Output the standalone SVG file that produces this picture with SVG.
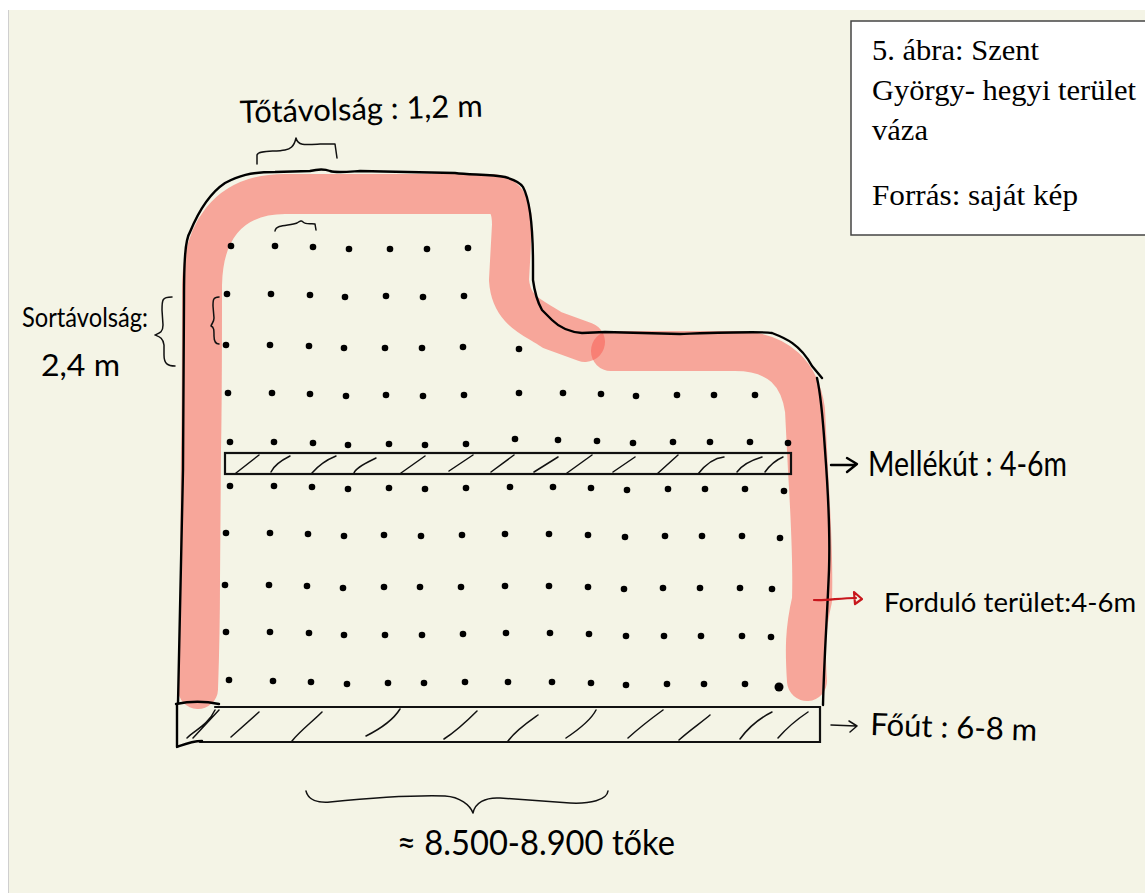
<svg xmlns="http://www.w3.org/2000/svg" width="1145" height="894" viewBox="0 0 1145 894">
<style>
.band{fill:none;stroke:#fa584e;stroke-opacity:.5;stroke-width:40;stroke-linecap:round;stroke-linejoin:round}
.ink{fill:none;stroke:#000;stroke-width:2.400;stroke-linecap:round;stroke-linejoin:round}
.thin{fill:none;stroke:#111;stroke-width:1.500;stroke-linecap:round;stroke-linejoin:round}
.rect{fill:none;stroke:#111;stroke-width:2.200;stroke-linecap:round}
.dots circle{fill:#000;r:3.300px}
.hand{font-family:"Lato","Liberation Sans",sans-serif;font-weight:400;fill:#000}
.cap{font-family:"Liberation Serif",serif;font-size:28.500px;fill:#000}
</style>
<rect width="1145" height="894" fill="#fff"/>
<rect x="8" y="10" width="1137" height="883" fill="#f4f4e6"/>
<path d="M8.500 10V893" stroke="#cfcfcf" fill="none"/>

<g id="turning-area">
<path class="band" d="M198 689C199 660 200 620 200 580L201 450C202 400 202 340 202 285C203 235 225 194 285 194L490 194C505 194 512 205 512 225L509 280C511 312 535 318 552 330L585 342"/>
<path class="band" d="M611 351L735 351C780 351 800 375 805 410L808 470C811 520 813 570 812 600C805 630 805 650 807 681"/>
</g>

<g id="field-outline">
<path class="ink" d="M178 703C179 640 181 560 183 470L184 300C184 262 185 240 190 232C197 215 207 195 225 183C238 176 250 172 275 172L310 171C318 169 325 169 330 171C336 173 345 172 360 171L455 173C470 175 490 174 505 177C512 179 520 182 523 187C530 200 533 225 533 265L533 280C535 295 538 303 542 310L552 320C560 328 570 332 582 333L605 332L680 334C710 333 760 331 772 333C785 338 800 344 812 366L822 378"/>
<path class="ink" d="M817 378C821 395 823 420 825 450C828 490 830 540 829 570C827 620 824 660 823 705"/>
</g>

<g id="main-road">
<path class="rect" d="M215 707H820V742H200"/>
<path class="ink" d="M176 704C190 701 205 701 219 704M177 704L177 747C185 744 192 741 202 741"/>
<path class="thin" d="M187 738C195 730 208 725 215 710M193 738L219 710M231 737L259 712M292 741C300 731 312 722 322 712M366 736C378 730 392 722 400 709M444 739C455 732 468 720 477 711M508 741C516 730 528 722 538 715M566 738C575 732 590 722 596 710M628 738C638 729 652 718 663 710M679 740C690 730 702 722 710 715M740 739C748 728 760 718 772 712M778 738C785 730 796 720 808 712"/>
</g>

<g id="side-road">
<rect class="rect" x="225" y="453" width="566" height="21"/>
<path class="thin" d="M236 473L259 455M271 472C274 465 282 460 290 456M312 473C318 466 326 460 336 456M354 473C356 467 368 462 376 458M401 473L425 456M449 471L473 455M491 472L514 455M534 472L558 457M567 473L592 455M613 472L635 457M657 474L678 455M698 474C705 465 714 458 724 457M737 472C742 465 752 460 762 457M765 472C770 465 776 460 783 457"/>
</g>

<g id="vines" class="dots">
<circle cx="231" cy="246"/><circle cx="275" cy="246"/><circle cx="313" cy="247"/><circle cx="349" cy="249"/><circle cx="390" cy="249"/><circle cx="427" cy="249"/><circle cx="468" cy="248"/>
<circle cx="227" cy="294"/><circle cx="271" cy="294"/><circle cx="310" cy="295"/><circle cx="345" cy="297"/><circle cx="386" cy="296"/><circle cx="423" cy="297"/><circle cx="464" cy="296"/>
<circle cx="226" cy="345"/><circle cx="270" cy="345"/><circle cx="309" cy="346"/><circle cx="344" cy="348"/><circle cx="385" cy="348"/><circle cx="422" cy="348"/><circle cx="463" cy="347"/><circle cx="519" cy="349"/>
<circle cx="228" cy="393"/><circle cx="272" cy="393"/><circle cx="310" cy="394"/><circle cx="346" cy="396"/><circle cx="386" cy="395"/><circle cx="423" cy="396"/><circle cx="464" cy="395"/><circle cx="519" cy="393"/><circle cx="563" cy="393"/><circle cx="601" cy="394"/><circle cx="636" cy="396"/><circle cx="677" cy="395"/><circle cx="714" cy="395"/><circle cx="755" cy="395"/>
<circle cx="230" cy="442"/><circle cx="274" cy="442"/><circle cx="313" cy="443"/><circle cx="348" cy="445"/><circle cx="389" cy="444"/><circle cx="425" cy="445"/><circle cx="466" cy="444"/><circle cx="515" cy="439"/><circle cx="558" cy="440"/><circle cx="597" cy="441"/><circle cx="633" cy="443"/><circle cx="673" cy="442"/><circle cx="710" cy="442"/><circle cx="750" cy="442"/><circle cx="788" cy="443"/>
<circle cx="230" cy="486"/><circle cx="274" cy="486"/><circle cx="312" cy="487"/><circle cx="348" cy="489"/><circle cx="389" cy="488"/><circle cx="425" cy="489"/><circle cx="466" cy="488"/><circle cx="510" cy="487"/><circle cx="553" cy="487"/><circle cx="591" cy="488"/><circle cx="627" cy="490"/><circle cx="668" cy="489"/><circle cx="705" cy="489"/><circle cx="745" cy="489"/><circle cx="784" cy="491"/>
<circle cx="226" cy="533"/><circle cx="270" cy="533"/><circle cx="308" cy="534"/><circle cx="344" cy="536"/><circle cx="384" cy="535"/><circle cx="421" cy="536"/><circle cx="462" cy="535"/><circle cx="505" cy="534"/><circle cx="549" cy="534"/><circle cx="588" cy="535"/><circle cx="625" cy="537"/><circle cx="665" cy="536"/><circle cx="702" cy="536"/><circle cx="742" cy="536"/><circle cx="780" cy="538"/>
<circle cx="225" cy="585"/><circle cx="269" cy="585"/><circle cx="307" cy="586"/><circle cx="343" cy="588"/><circle cx="384" cy="587"/><circle cx="420" cy="587"/><circle cx="461" cy="587"/><circle cx="505" cy="586"/><circle cx="549" cy="586"/><circle cx="588" cy="587"/><circle cx="624" cy="589"/><circle cx="663" cy="588"/><circle cx="700" cy="588"/><circle cx="740" cy="588"/><circle cx="772" cy="589"/>
<circle cx="226" cy="632"/><circle cx="270" cy="632"/><circle cx="309" cy="633"/><circle cx="344" cy="635"/><circle cx="385" cy="635"/><circle cx="422" cy="635"/><circle cx="463" cy="634"/><circle cx="506" cy="633"/><circle cx="550" cy="633"/><circle cx="589" cy="634"/><circle cx="626" cy="636"/><circle cx="664" cy="636"/><circle cx="701" cy="636"/><circle cx="742" cy="636"/><circle cx="771" cy="637"/>
<circle cx="229" cy="680"/><circle cx="273" cy="681"/><circle cx="311" cy="682"/><circle cx="347" cy="684"/><circle cx="388" cy="683"/><circle cx="424" cy="683"/><circle cx="465" cy="682"/><circle cx="508" cy="682"/><circle cx="552" cy="682"/><circle cx="591" cy="683"/><circle cx="626" cy="685"/><circle cx="667" cy="684"/><circle cx="704" cy="684"/><circle cx="745" cy="684"/><circle cx="779" cy="687" style="r:4.500px"/>
</g>

<g id="connectors">
<path class="thin" d="M257 164L257 155C258 150 275 152 285 150C290 149 294 147 296 138C298 146 305 145 320 144L335 144L337 158"/>
<path class="thin" d="M275 231C276 224 290 226 297 223C300 221 302 220 303 222C306 225 312 223 315 224L316 230"/>
<path class="thin" d="M172 297C162 297 162 300 162 310L163 325C163 332 160 333 155 335C160 337 163 338 164 345L164 355C164 364 168 366 175 366"/>
<path class="thin" d="M219 297C213 297 213 300 213 306L214 318C214 322 212 323 211 326C214 327 214 330 214 336C214 342 216 344 219 344"/>
<path class="thin" d="M306 791C308 800 318 803 330 802C370 798 410 795 445 796C460 797 470 805 473 813C475 803 485 797 500 798L570 803C590 804 607 800 608 791"/>
<path class="ink" d="M831 465L855 465M847 458L857 464L847 472"/>
<path class="thin" d="M831 725L856 726M849 721L857 726L850 732"/>
<path fill="none" stroke="#c8161c" stroke-width="2.200" stroke-linecap="round" stroke-linejoin="round" d="M814 600C825 601 840 598 856 598M854 592L862 599L855 604Z"/>
</g>

<g id="labels">
<text class="hand" x="240" y="123" font-size="31" textLength="243" lengthAdjust="spacingAndGlyphs" transform="rotate(-1.500 240 123)">Tőtávolság : 1,2 m</text>
<text class="hand" x="22" y="327" font-size="27" textLength="126" lengthAdjust="spacingAndGlyphs">Sortávolság:</text>
<text class="hand" x="41" y="376" font-size="30" textLength="79" lengthAdjust="spacingAndGlyphs">2,4 m</text>
<text class="hand" x="868" y="476" font-size="34" textLength="199" lengthAdjust="spacingAndGlyphs">Mellékút : 4-6m</text>
<text class="hand" x="884" y="612" font-size="27.500" textLength="252" lengthAdjust="spacing">Forduló terület:4-6m</text>
<text class="hand" x="870" y="735" font-size="31" textLength="167" lengthAdjust="spacingAndGlyphs" transform="rotate(2 870 735)">Főút : 6-8 m</text>
<text class="hand" x="397" y="855" font-size="34" textLength="278" lengthAdjust="spacingAndGlyphs">≈ 8.500-8.900 tőke</text>
</g>

<g id="caption">
<rect x="851" y="21" width="296" height="214" fill="#fff" stroke="#444" stroke-width="1.500"/>
<text class="cap" x="872" y="60" textLength="167" lengthAdjust="spacingAndGlyphs">5. ábra: Szent</text>
<text class="cap" x="872" y="100" textLength="264" lengthAdjust="spacingAndGlyphs">György- hegyi terület</text>
<text class="cap" x="872" y="140" textLength="56" lengthAdjust="spacingAndGlyphs">váza</text>
<text class="cap" x="872" y="205" textLength="206" lengthAdjust="spacingAndGlyphs">Forrás: saját kép</text>
</g>
</svg>
